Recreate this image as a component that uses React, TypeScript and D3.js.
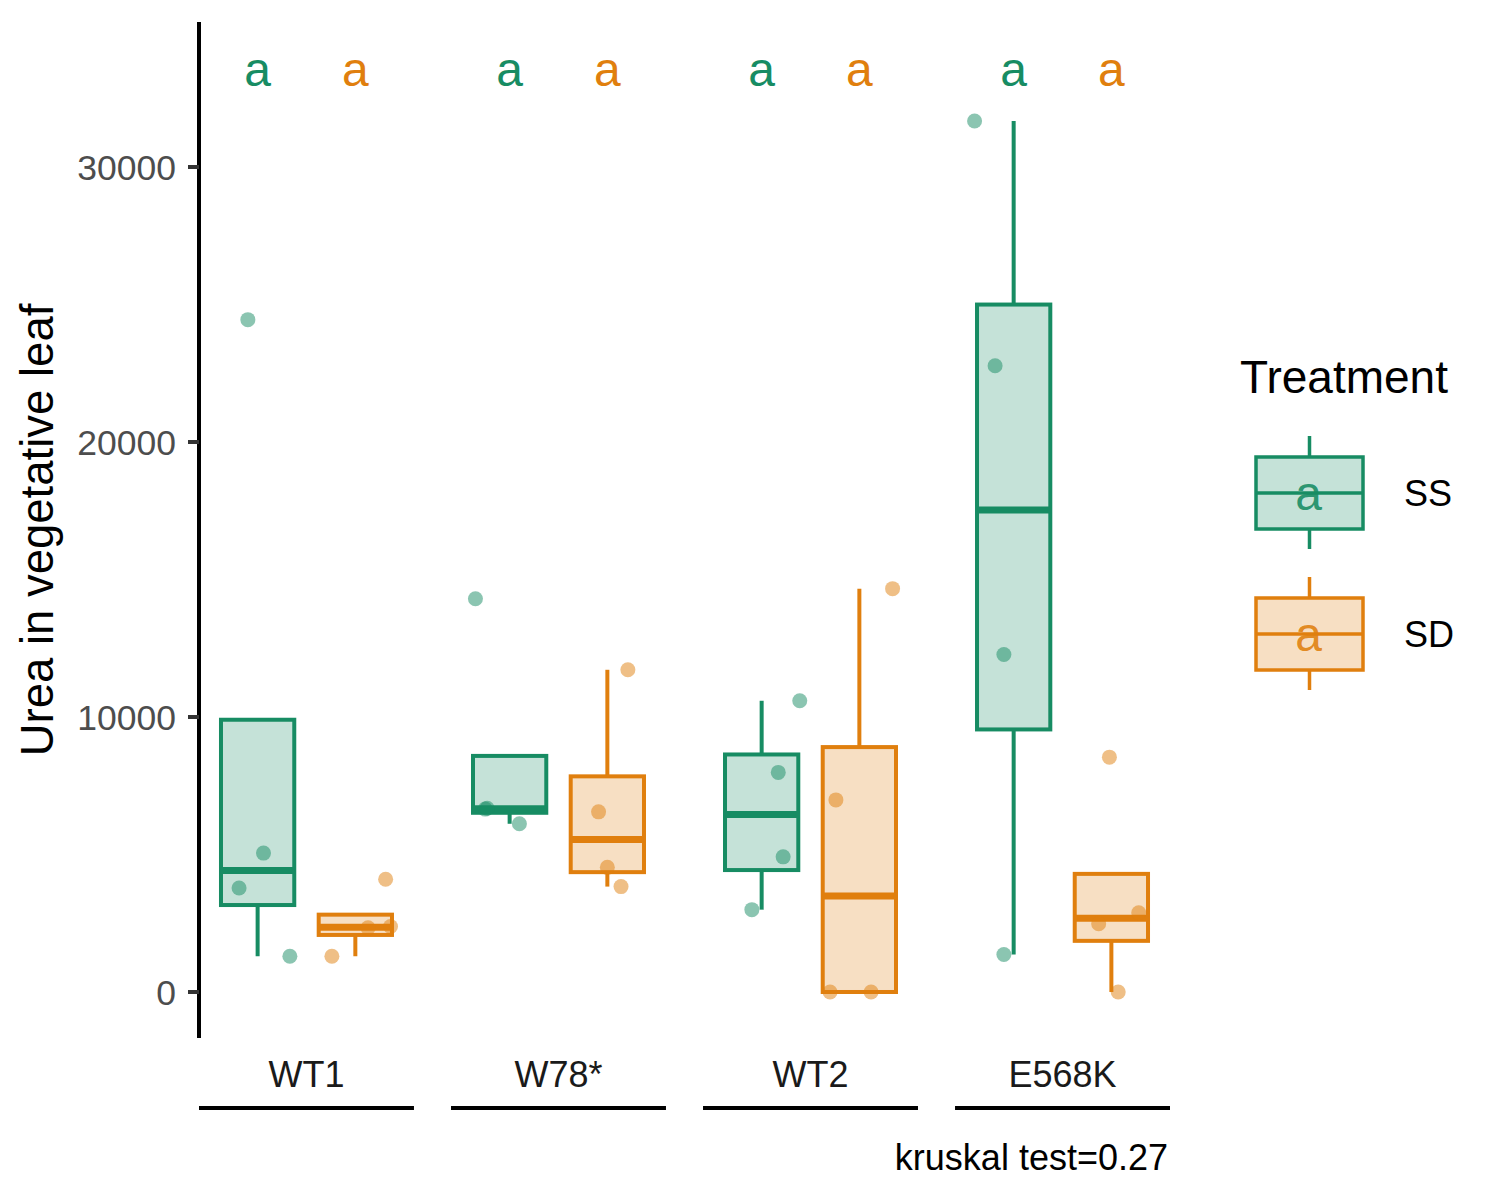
import React from 'react';
import * as d3 from 'd3';

const genotypes = ['WT1', 'W78*', 'WT2', 'E568K'];
const treatments = ['SS', 'SD'];
const treatmentColors = ['#178c63', '#e07f0e'];

// urea values per genotype, one array per treatment
const ssValues = [
  [24450, 5050, 3783, 1300],
  [14300, 6650, 6680, 6117],
  [10590, 7986, 4914, 2994],
  [31673, 22773, 12275, 1366],
];
const sdValues = [
  [1300, 4100, 2333, 2383],
  [11717, 6550, 4533, 3833],
  [14668, 6985, 0, 0],
  [8540, 2480, 2880, 0],
];
// horizontal jitter of the points, in units of the treatment step
const ssJitter = [
  [-0.1, 0.06, -0.19, 0.33],
  [-0.35, -0.25, -0.23, 0.1],
  [0.39, 0.17, 0.22, -0.1],
  [-0.4, -0.19, -0.1, -0.1],
];
const sdJitter = [
  [-0.24, 0.31, 0.13, 0.36],
  [0.21, -0.09, 0.0, 0.14],
  [0.34, -0.24, -0.3, 0.12],
  [-0.02, -0.13, 0.28, 0.07],
];
const ssLetters = ['a', 'a', 'a', 'a'];
const sdLetters = ['a', 'a', 'a', 'a'];
const letterLevel = 33400;
const yTicks = [0, 10000, 20000, 30000];
const yTitle = 'Urea in vegetative leaf';
const legendTitle = 'Treatment';
const testLabel = 'kruskal test=0.27';

const FONT = "'Liberation Sans', Arial, Helvetica, sans-serif";

function boxStats(values: number[]) {
  const s = values.slice().sort(d3.ascending);
  const q1 = d3.quantile(s, 0.25)!;
  const med = d3.quantile(s, 0.5)!;
  const q3 = d3.quantile(s, 0.75)!;
  const iqr = q3 - q1;
  const hi = d3.max(s.filter((v) => v <= q3 + 1.5 * iqr))!;
  const lo = d3.min(s.filter((v) => v >= q1 - 1.5 * iqr))!;
  return { q1, med, q3, hi: Math.max(hi, q3), lo: Math.min(lo, q1) };
}

const App = () => {
  const width = 1500;
  const height = 1200;
  const panelLeft = 199;
  const panelRight = 1170;
  const top = 22;
  const bottom = 1038;

  const y = d3.scaleLinear().domain([-1673, 35273]).range([bottom, top]);

  const xPanel = d3
    .scaleBand<string>()
    .domain(genotypes)
    .range([panelLeft, panelRight])
    .paddingInner(0.147)
    .paddingOuter(0);

  const xInner = d3
    .scalePoint<string>()
    .domain(treatments)
    .range([0, xPanel.bandwidth()])
    .padding(0.6);
  const step = xInner.step();
  const boxW = step * 0.75;

  const series = [ssValues, sdValues];
  const jitters = [ssJitter, sdJitter];
  const letters = [ssLetters, sdLetters];

  return (
    <svg
      width={width}
      height={height}
      style={{ position: 'absolute', left: 0, top: 0, background: '#fff' }}
      fontFamily={FONT}
    >
      {/* y axis */}
      <line x1={panelLeft} x2={panelLeft} y1={top} y2={bottom} stroke="#000" strokeWidth={4} />
      {yTicks.map((t) => (
        <g key={t}>
          <line x1={panelLeft - 11} x2={panelLeft} y1={y(t)} y2={y(t)} stroke="#333" strokeWidth={4} />
          <text x={176} y={y(t)} dy="0.36em" textAnchor="end" fontSize={35.5} fill="#4d4d4d">
            {t}
          </text>
        </g>
      ))}
      <text
        transform={`translate(53, ${(top + bottom) / 2}) rotate(-90)`}
        textAnchor="middle"
        fontSize={45.5}
        fill="#000"
      >
        {yTitle}
      </text>

      {/* panels */}
      {genotypes.map((g, gi) => {
        const px = xPanel(g)!;
        return (
          <g key={g}>
            {treatments.map((tr, ti) => {
              const cx = px + xInner(tr)!;
              const vals = series[ti][gi];
              const st = boxStats(vals);
              const col = treatmentColors[ti];
              return (
                <g key={tr}>
                  <line x1={cx} x2={cx} y1={y(st.q3)} y2={y(st.hi)} stroke={col} strokeWidth={4} />
                  <line x1={cx} x2={cx} y1={y(st.q1)} y2={y(st.lo)} stroke={col} strokeWidth={4} />
                  <rect
                    x={cx - boxW / 2}
                    y={y(st.q3)}
                    width={boxW}
                    height={y(st.q1) - y(st.q3)}
                    fill={col}
                    fillOpacity={0.25}
                    stroke={col}
                    strokeWidth={4}
                  />
                  <line
                    x1={cx - boxW / 2}
                    x2={cx + boxW / 2}
                    y1={y(st.med)}
                    y2={y(st.med)}
                    stroke={col}
                    strokeWidth={7}
                  />
                  {vals.map((v, i) => (
                    <circle
                      key={i}
                      cx={cx + jitters[ti][gi][i] * step}
                      cy={y(v)}
                      r={7.5}
                      fill={col}
                      fillOpacity={0.5}
                    />
                  ))}
                  <text
                    x={cx}
                    y={y(letterLevel)}
                    dy="0.27em"
                    textAnchor="middle"
                    fontSize={48}
                    fill={col}
                  >
                    {letters[ti][gi]}
                  </text>
                </g>
              );
            })}
            <text x={px + xPanel.bandwidth() / 2} y={1087} textAnchor="middle" fontSize={36} fill="#1a1a1a">
              {g}
            </text>
            <line x1={px} x2={px + xPanel.bandwidth()} y1={1108} y2={1108} stroke="#000" strokeWidth={4} />
          </g>
        );
      })}

      <text x={panelRight - 2} y={1170} textAnchor="end" fontSize={36} fill="#000">
        {testLabel}
      </text>

      {/* legend */}
      <text x={1240} y={393} fontSize={46} fill="#000">
        {legendTitle}
      </text>
      {treatments.map((tr, ti) => {
        const col = treatmentColors[ti];
        const cy = 493 + ti * 141;
        return (
          <g key={tr}>
            <line x1={1309.5} x2={1309.5} y1={cy - 57} y2={cy - 36} stroke={col} strokeWidth={3.5} />
            <line x1={1309.5} x2={1309.5} y1={cy + 36} y2={cy + 56} stroke={col} strokeWidth={3.5} />
            <rect
              x={1256}
              y={cy - 36}
              width={107}
              height={72}
              fill={col}
              fillOpacity={0.25}
              stroke={col}
              strokeWidth={3.5}
            />
            <line x1={1256} x2={1363} y1={cy} y2={cy} stroke={col} strokeWidth={3.5} />
            <text x={1308.5} y={cy} dy="0.35em" textAnchor="middle" fontSize={48} fill={col} fillOpacity={0.9}>
              a
            </text>
            <text x={1404} y={cy} dy="0.36em" fontSize={36} fill="#000">
              {tr}
            </text>
          </g>
        );
      })}
    </svg>
  );
};

export default App;
